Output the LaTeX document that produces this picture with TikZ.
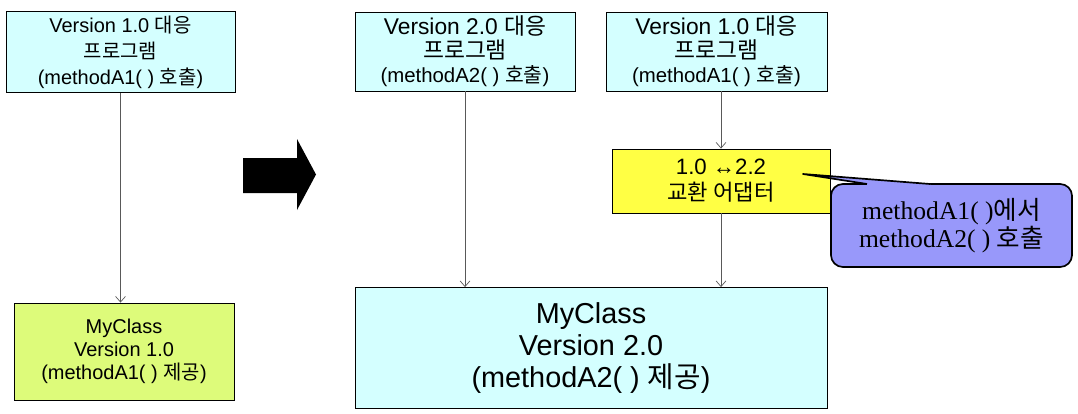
\documentclass[tikz,border=0pt]{standalone}
\usepackage{fontspec}
\setmainfont{Liberation Sans}
\newfontfamily\korfont{Noto Sans CJK KR}
\newfontfamily\notefont{Liberation Serif}
\newcommand\ko[1]{{\korfont #1}}
\usetikzlibrary{arrows.meta}
\definecolor{progcyan}{RGB}{212,255,255}
\definecolor{classgreen}{RGB}{221,251,122}
\definecolor{adaptyellow}{RGB}{255,255,68}
\definecolor{noteblue}{RGB}{152,152,250}
\begin{document}
\begin{tikzpicture}[x=0.025cm,y=-0.025cm,
    box/.style={draw,line width=0.6pt,align=center,inner sep=0pt},
    link/.style={draw=black!65,line width=0.5pt,-{Straight Barb[length=4pt,width=7pt]}}]
  \useasboundingbox (0,0) rectangle (1078,414);
  % left: version 1.0
  \node[box,fill=progcyan,minimum width=5.725cm,minimum height=2.025cm,
        font=\fontsize{14.2}{18.5}\selectfont] (oldprog) at (120.5,52)
        {Version 1.0 \ko{대응}\\ \ko{프로그램}\\ (methodA1( ) \ko{호출})};
  \node[box,fill=classgreen,minimum width=5.5cm,minimum height=2.425cm,
        font=\fontsize{14.2}{16.5}\selectfont] (oldclass) at (124,351.5)
        {MyClass\\ Version 1.0\\ (methodA1( ) \ko{제공})};
  \draw[link] (oldprog.south) -- (oldprog.south |- oldclass.north);
  % big arrow
  \fill (243,158) -- (297,158) -- (297,139) -- (316,174.5) -- (297,210)
        -- (297,193) -- (243,193) -- cycle;
  % right: version 2.0
  \node[box,fill=progcyan,minimum width=5.5cm,minimum height=1.975cm,
        font=\fontsize{16.2}{17}\selectfont] (newprog) at (465,51.5)
        {Version 2.0 \ko{대응}\\ \ko{프로그램}\\
         {\fontsize{14.5}{18.5}\selectfont (methodA2( ) \ko{호출})}};
  \node[box,fill=progcyan,minimum width=5.525cm,minimum height=1.975cm,
        font=\fontsize{16.2}{17}\selectfont] (oldprogb) at (716.5,51.5)
        {Version 1.0 \ko{대응}\\ \ko{프로그램}\\
         {\fontsize{14.5}{18.5}\selectfont (methodA1( ) \ko{호출})}};
  \node[box,fill=adaptyellow,minimum width=5.45cm,minimum height=1.6cm,
        font=\fontsize{15.8}{18.5}\selectfont] (adapter) at (721,181)
        {1.0 ↔2.2\\ \ko{교환 어댑터}};
  \node[box,fill=progcyan,minimum width=11.8cm,minimum height=3.025cm,
        font=\fontsize{20.5}{23}\selectfont] (newclass) at (591,348)
        {MyClass\\ Version 2.0\\ (methodA2( ) \ko{제공})};
  \draw[link] (newprog.south) -- (newprog.south |- newclass.north);
  \draw[link] (adapter.north |- oldprogb.south) -- (adapter.north);
  \draw[link] (adapter.south) -- (adapter.south |- newclass.north);
  % callout
  \node[box,fill=noteblue,line width=1.2pt,rounded corners=0.3cm,
        minimum width=6.025cm,minimum height=2.075cm,
        font=\notefont\fontsize{18.2}{19.5}\selectfont] (note) at (951.5,225.5)
        {methodA1( )\ko{에서}\\ methodA2( ) \ko{호출}};
  \coordinate (tip) at (803,174);
  \fill[noteblue] (tip) -- (867,184) -- (867,187) -- (930,187) -- (930,184) -- cycle;
  \draw[line width=1.2pt,line join=round] (867,184) -- (tip) -- (930,184);
\end{tikzpicture}
\end{document}
